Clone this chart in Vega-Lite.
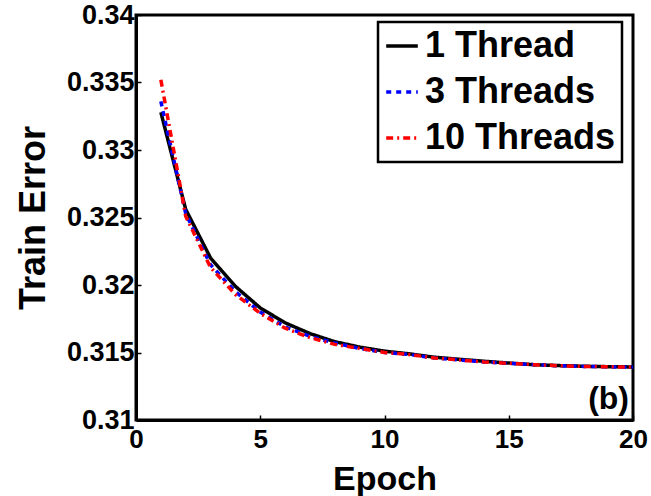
{
  "$schema": "https://vega.github.io/schema/vega-lite/v6.json",
  "autosize": {"type": "none"},
  "width": 497,
  "height": 405,
  "padding": {"left": 136, "top": 15, "right": 18, "bottom": 76},
  "background": "white",
  "config": {
    "font": "Liberation Sans",
    "view": {"stroke": "black", "strokeWidth": 3},
    "axis": {
      "labelFont": "Liberation Sans",
      "labelFontWeight": "bold",
      "labelFontSize": 27,
      "labelColor": "black",
      "titleFont": "Liberation Sans",
      "titleFontWeight": "bold",
      "titleFontSize": 36,
      "titleColor": "black",
      "domainColor": "black",
      "domainWidth": 3,
      "tickColor": "black",
      "tickSize": -5,
      "tickWidth": 1.5,
      "grid": false
    },
    "legend": {
      "orient": "none",
      "legendX": 242,
      "legendY": 7,
      "strokeColor": "black",
      "strokeWidth": 2.5,
      "fillColor": "white",
      "padding": 6,
      "labelFont": "Liberation Sans",
      "labelFontSize": 36,
      "labelFontWeight": "bold",
      "labelColor": "black",
      "labelLimit": 400,
      "labelOffset": 5,
      "symbolType": "stroke",
      "symbolSize": 1000,
      "symbolStrokeWidth": 3.5,
      "rowPadding": 10
    }
  },
  "datasets": {
    "curves": [
      {"epoch": 1, "err": 0.3328, "series": "1 Thread"},
      {"epoch": 2, "err": 0.3256, "series": "1 Thread"},
      {"epoch": 3, "err": 0.3220, "series": "1 Thread"},
      {"epoch": 4, "err": 0.3199, "series": "1 Thread"},
      {"epoch": 5, "err": 0.3183, "series": "1 Thread"},
      {"epoch": 6, "err": 0.3172, "series": "1 Thread"},
      {"epoch": 7, "err": 0.3164, "series": "1 Thread"},
      {"epoch": 8, "err": 0.3158, "series": "1 Thread"},
      {"epoch": 9, "err": 0.3154, "series": "1 Thread"},
      {"epoch": 10, "err": 0.3151, "series": "1 Thread"},
      {"epoch": 11, "err": 0.3149, "series": "1 Thread"},
      {"epoch": 12, "err": 0.31465, "series": "1 Thread"},
      {"epoch": 13, "err": 0.3145, "series": "1 Thread"},
      {"epoch": 14, "err": 0.31435, "series": "1 Thread"},
      {"epoch": 15, "err": 0.31422, "series": "1 Thread"},
      {"epoch": 16, "err": 0.3141, "series": "1 Thread"},
      {"epoch": 17, "err": 0.31403, "series": "1 Thread"},
      {"epoch": 18, "err": 0.31398, "series": "1 Thread"},
      {"epoch": 19, "err": 0.31395, "series": "1 Thread"},
      {"epoch": 20, "err": 0.31393, "series": "1 Thread"},
      {"epoch": 1, "err": 0.3336, "series": "3 Threads"},
      {"epoch": 2, "err": 0.3253, "series": "3 Threads"},
      {"epoch": 3, "err": 0.3215, "series": "3 Threads"},
      {"epoch": 4, "err": 0.3195, "series": "3 Threads"},
      {"epoch": 5, "err": 0.3180, "series": "3 Threads"},
      {"epoch": 6, "err": 0.3169, "series": "3 Threads"},
      {"epoch": 7, "err": 0.3162, "series": "3 Threads"},
      {"epoch": 8, "err": 0.3157, "series": "3 Threads"},
      {"epoch": 9, "err": 0.3153, "series": "3 Threads"},
      {"epoch": 10, "err": 0.3150, "series": "3 Threads"},
      {"epoch": 11, "err": 0.31485, "series": "3 Threads"},
      {"epoch": 12, "err": 0.3146, "series": "3 Threads"},
      {"epoch": 13, "err": 0.31445, "series": "3 Threads"},
      {"epoch": 14, "err": 0.3143, "series": "3 Threads"},
      {"epoch": 15, "err": 0.3142, "series": "3 Threads"},
      {"epoch": 16, "err": 0.3141, "series": "3 Threads"},
      {"epoch": 17, "err": 0.31402, "series": "3 Threads"},
      {"epoch": 18, "err": 0.31397, "series": "3 Threads"},
      {"epoch": 19, "err": 0.31394, "series": "3 Threads"},
      {"epoch": 20, "err": 0.31392, "series": "3 Threads"},
      {"epoch": 1, "err": 0.3352, "series": "10 Threads"},
      {"epoch": 2, "err": 0.3251, "series": "10 Threads"},
      {"epoch": 3, "err": 0.3213, "series": "10 Threads"},
      {"epoch": 4, "err": 0.3193, "series": "10 Threads"},
      {"epoch": 5, "err": 0.3179, "series": "10 Threads"},
      {"epoch": 6, "err": 0.3168, "series": "10 Threads"},
      {"epoch": 7, "err": 0.3161, "series": "10 Threads"},
      {"epoch": 8, "err": 0.3156, "series": "10 Threads"},
      {"epoch": 9, "err": 0.3153, "series": "10 Threads"},
      {"epoch": 10, "err": 0.3150, "series": "10 Threads"},
      {"epoch": 11, "err": 0.31485, "series": "10 Threads"},
      {"epoch": 12, "err": 0.3146, "series": "10 Threads"},
      {"epoch": 13, "err": 0.31445, "series": "10 Threads"},
      {"epoch": 14, "err": 0.3143, "series": "10 Threads"},
      {"epoch": 15, "err": 0.3142, "series": "10 Threads"},
      {"epoch": 16, "err": 0.3141, "series": "10 Threads"},
      {"epoch": 17, "err": 0.31402, "series": "10 Threads"},
      {"epoch": 18, "err": 0.31397, "series": "10 Threads"},
      {"epoch": 19, "err": 0.31394, "series": "10 Threads"},
      {"epoch": 20, "err": 0.31392, "series": "10 Threads"}
    ],
    "tag": [
      {"epoch": 20, "err": 0.3103, "label": "(b)"}
    ]
  },
  "encoding": {
    "x": {
      "field": "epoch",
      "type": "quantitative",
      "scale": {"domain": [0, 20], "nice": false, "zero": false},
      "axis": {
        "title": "Epoch",
        "values": [0, 5, 10, 15, 20],
        "labelPadding": 11,
        "labelFontSize": 26,
        "labelFlush": false,
        "titleFontSize": 34,
        "titleX": 248.5,
        "titleY": 69,
        "titleBaseline": "alphabetic",
        "titleAlign": "center"
      }
    },
    "y": {
      "field": "err",
      "type": "quantitative",
      "scale": {"domain": [0.31, 0.34], "nice": false, "zero": false},
      "axis": {
        "title": "Train Error",
        "values": [0.31, 0.315, 0.32, 0.325, 0.33, 0.335, 0.34],
        "format": ".3~f",
        "labelPadding": 7,
        "labelFlush": false,
        "titleX": -103,
        "titleY": 202.5,
        "titleAngle": -90,
        "titleBaseline": "middle",
        "titleAlign": "center"
      }
    }
  },
  "layer": [
    {
      "data": {"name": "curves"},
      "mark": {"type": "line", "strokeWidth": 3.5, "interpolate": "linear"},
      "encoding": {
        "color": {
          "field": "series",
          "type": "nominal",
          "sort": ["1 Thread", "3 Threads", "10 Threads"],
          "scale": {"domain": ["1 Thread", "3 Threads", "10 Threads"], "range": ["black", "blue", "red"]},
          "legend": {"title": null}
        },
        "strokeDash": {
          "field": "series",
          "type": "nominal",
          "sort": ["1 Thread", "3 Threads", "10 Threads"],
          "scale": {"domain": ["1 Thread", "3 Threads", "10 Threads"], "range": [[1, 0], [5, 5], [7, 4, 2, 4]]},
          "legend": {"title": null}
        }
      }
    },
    {
      "data": {"name": "tag"},
      "mark": {"type": "text", "align": "right", "baseline": "bottom", "dx": -4, "font": "Liberation Sans", "fontWeight": "bold", "fontSize": 32, "color": "black"},
      "encoding": {
        "text": {"field": "label", "type": "nominal"}
      }
    }
  ]
}
